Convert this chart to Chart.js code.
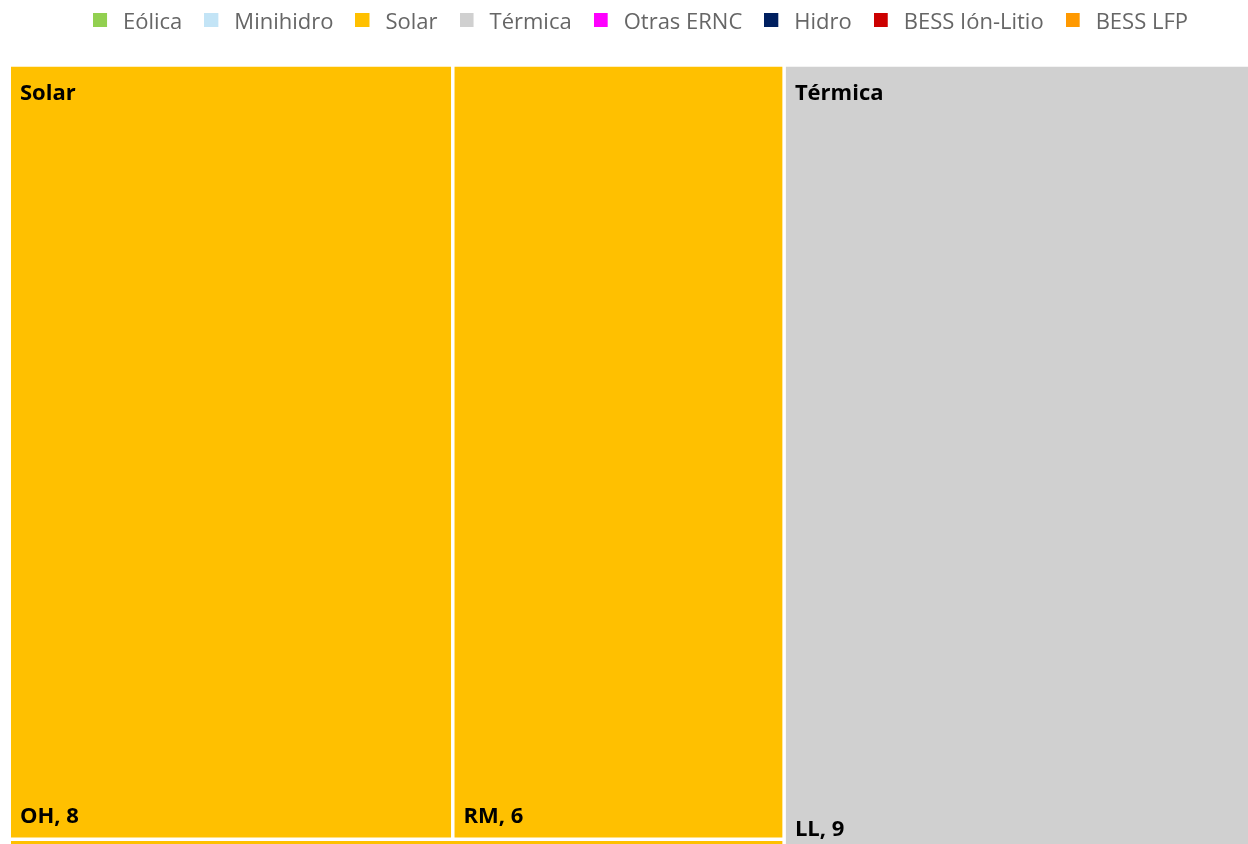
<!DOCTYPE html>
<html>
<head>
<meta charset="utf-8">
<script src="https://cdn.jsdelivr.net/npm/chart.js@4"></script>
<style>
  html, body { margin: 0; padding: 0; background: #fff; overflow: hidden; }
  #chartContainer { position: relative; width: 1248px; height: 844px; }
</style>
</head>
<body>
<div id="chartContainer"><canvas id="myChart"></canvas></div>
<script>
// Tecnologías (leyenda)
var techLabels = ['Eólica', 'Minihidro', 'Solar', 'Térmica', 'Otras ERNC', 'Hidro', 'BESS Ión-Litio', 'BESS LFP'];
var techColors = ['#92D050', '#C3E4F6', '#FFC000', '#D0D0D0', '#FF00FF', '#002060', '#CC0000', '#FF9900'];

// Hojas del treemap: grupo (tecnología), región y cantidad
var groups  = ['Solar', 'Solar', 'Solar', 'Térmica'];
var regions = ['OH', 'RM', 'MA', 'LL'];
var counts  = [8, 6, 1, 9];

var treemapHeight = 828;   // alto total del treemap (se recorta abajo)
var gap = 3.5;
var labelFont = "bold 22px 'Segoe UI', 'Open Sans', sans-serif";

// squarify (misma idea que d3.treemapSquarify, ratio phi)
function squarify(nodes, x0, y0, x1, y1) {
    var ratio = (1 + Math.sqrt(5)) / 2;
    var value = nodes.reduce(function (s, n) { return s + n.value; }, 0);
    var i0 = 0, i1 = 0, n = nodes.length;
    while (i0 < n) {
        var dx = x1 - x0, dy = y1 - y0;
        var sumValue = nodes[i1++].value;
        var minValue = sumValue, maxValue = sumValue;
        var alpha = Math.max(dy / dx, dx / dy) / (value * ratio);
        var beta = sumValue * sumValue * alpha;
        var minRatio = Math.max(maxValue / beta, beta / minValue);
        for (; i1 < n; ++i1) {
            var v = nodes[i1].value;
            sumValue += v;
            var mn = Math.min(minValue, v), mx = Math.max(maxValue, v);
            beta = sumValue * sumValue * alpha;
            var newRatio = Math.max(mx / beta, beta / mn);
            if (newRatio > minRatio) { sumValue -= v; break; }
            minValue = mn; maxValue = mx; minRatio = newRatio;
        }
        var row = nodes.slice(i0, i1);
        if (dx < dy) {
            var yb = y0 + dy * sumValue / value, xx = x0;
            row.forEach(function (nd) {
                var w = dx * nd.value / sumValue;
                nd.rect = [xx, y0, xx + w, yb]; xx += w;
            });
            y0 = yb;
        } else {
            var xb = x0 + dx * sumValue / value, yy = y0;
            row.forEach(function (nd) {
                var h = dy * nd.value / sumValue;
                nd.rect = [x0, yy, xb, yy + h]; yy += h;
            });
            x0 = xb;
        }
        value -= sumValue; i0 = i1;
    }
}

var groupNodes = [];
var leafNodes = [];

function buildLayout(W, H) {
    var names = [];
    groups.forEach(function (g) { if (names.indexOf(g) < 0) names.push(g); });
    groupNodes = names.map(function (g) {
        var kids = [];
        groups.forEach(function (gg, i) {
            if (gg === g) kids.push({ index: i, value: counts[i] });
        });
        kids.sort(function (a, b) { return b.value - a.value; });
        return { name: g, children: kids, value: kids.reduce(function (s, k) { return s + k.value; }, 0) };
    });
    groupNodes.sort(function (a, b) { return b.value - a.value; });
    squarify(groupNodes, 0, 0, W, H);
    leafNodes = [];
    groupNodes.forEach(function (g) {
        squarify(g.children, g.rect[0], g.rect[1], g.rect[2], g.rect[3]);
        g.children.forEach(function (k) { k.group = g.name; leafNodes.push(k); });
    });
    // huecos blancos solo en los bordes interiores
    function inset(r) {
        var e = 0.001;
        return [
            r[0] > e ? r[0] + gap / 2 : r[0],
            r[1] > e ? r[1] + gap / 2 : r[1],
            r[2] < W - e ? r[2] - gap / 2 : r[2],
            r[3] < H - e ? r[3] - gap / 2 : r[3]
        ];
    }
    groupNodes.forEach(function (g) { g.box = inset(g.rect); });
    leafNodes.forEach(function (k) { k.box = inset(k.rect); });
}

function colorOf(name) {
    return techColors[techLabels.indexOf(name)];
}

// cuadrito de la leyenda con algo de aire a la derecha
function legendSwatch(color) {
    var c = document.createElement('canvas');
    c.width = 19; c.height = 19;
    var g = c.getContext('2d');
    g.fillStyle = color;
    g.fillRect(0, 0, 14, 14);
    return c;
}

// espacio extra bajo la leyenda y leyenda algo corrida a la derecha
var legendGap = {
    id: 'legendGap',
    beforeInit: function (chart) {
        var fit = chart.legend.fit;
        chart.legend.fit = function () {
            fit.bind(chart.legend)();
            this.height += 23;
        };
    },
    afterLayout: function (chart) {
        chart.legend.left += 11;
        chart.legend.right += 11;
    }
};

var treemapLabels = {
    id: 'treemapLabels',
    afterDatasetsDraw: function (chart) {
        var ctx = chart.ctx, area = chart.chartArea;
        var xs = chart.scales.x, ys = chart.scales.y;
        ctx.save();
        ctx.beginPath();
        ctx.rect(area.left, area.top, area.width, area.height);
        ctx.clip();
        ctx.font = labelFont;
        ctx.fillStyle = '#000';
        ctx.textBaseline = 'alphabetic';
        ctx.textAlign = 'left';
        leafNodes.forEach(function (k) {
            var left = xs.getPixelForValue(k.box[0]);
            var top = ys.getPixelForValue(k.box[1]);
            var bottom = ys.getPixelForValue(k.box[3]);
            if (Math.min(bottom, area.bottom) - top < 60) return;
            var yText = Math.min(bottom - 15, area.bottom - 8);
            ctx.fillText(regions[k.index] + ', ' + counts[k.index], left + 9, yText);
        });
        groupNodes.forEach(function (g) {
            var left = xs.getPixelForValue(g.box[0]);
            var top = ys.getPixelForValue(g.box[1]);
            ctx.fillText(g.name, left + 9, top + 33);
        });
        ctx.restore();
    }
};

var ctx = document.getElementById('myChart').getContext('2d');
var chart = new Chart(ctx, {
    type: 'line',
    data: { datasets: [] },
    options: {
        responsive: true,
        maintainAspectRatio: false,
        animation: false,
        layout: { padding: { left: 11, right: 0, top: -10.5, bottom: 0 } },
        scales: {
            x: { type: 'linear', display: false, min: 0, max: 1 },
            y: { type: 'linear', display: false, min: 0, max: 1, reverse: true }
        },
        elements: {
            point: { radius: 0, hoverRadius: 0 },
            line: { tension: 0, borderWidth: 0, borderColor: 'rgba(0,0,0,0)' }
        },
        plugins: {
            tooltip: { enabled: false },
            legend: {
                position: 'top',
                align: 'center',
                onClick: null,
                labels: {
                    color: '#666',
                    font: { family: "'Segoe UI', 'Open Sans', sans-serif", size: 22 },
                    usePointStyle: true,
                    pointStyleWidth: 19,
                    boxHeight: 14,
                    padding: 22,
                    generateLabels: function () {
                        return techLabels.map(function (t, i) {
                            return {
                                text: t,
                                fillStyle: techColors[i],
                                strokeStyle: techColors[i],
                                lineWidth: 0,
                                hidden: false,
                                fontColor: '#666',
                                pointStyle: legendSwatch(techColors[i])
                            };
                        });
                    }
                }
            }
        }
    },
    plugins: [legendGap, treemapLabels]
});

// segunda pasada: layout con el tamaño real del área
var area = chart.chartArea;
buildLayout(area.width, treemapHeight);
chart.options.scales.x.max = area.width;
chart.options.scales.y.max = area.height;
chart.data.datasets = leafNodes.map(function (k) {
    var b = k.box;
    return {
        label: regions[k.index],
        data: [
            { x: b[0], y: b[1] }, { x: b[2], y: b[1] },
            { x: b[2], y: b[3] }, { x: b[0], y: b[3] }, { x: b[0], y: b[1] }
        ],
        backgroundColor: colorOf(k.group),
        borderColor: 'rgba(0,0,0,0)',
        borderWidth: 0,
        fill: 'shape'
    };
});
chart.update();
</script>
</body>
</html>
